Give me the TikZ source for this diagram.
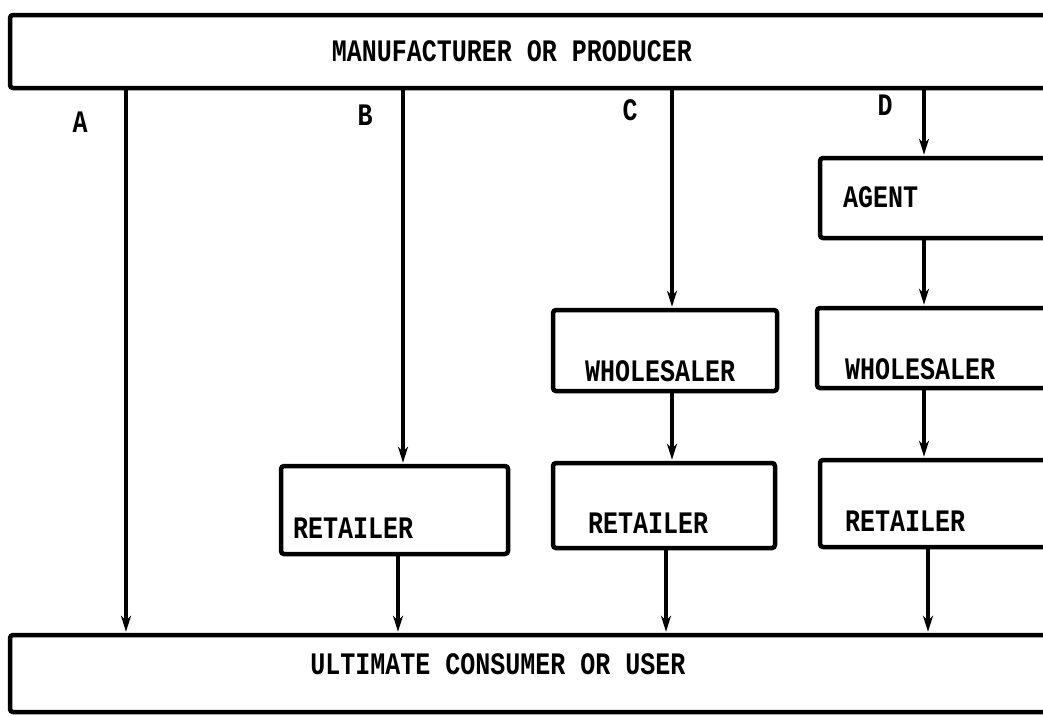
\documentclass[tikz,border=0pt]{standalone}
\usepackage{fontspec}
\setmonofont{Liberation Mono}
\usetikzlibrary{arrows.meta}
\newcommand\talltext[1]{\scalebox{1}[1.25]{#1}}
\tikzset{
  boxnode/.style={draw, line width=4.5pt, rounded corners=3pt, inner sep=0pt},
  lbl/.style={font=\ttfamily\bfseries\fontsize{25}{25}\selectfont, inner sep=0pt},
  link/.style={line width=3.5pt, -{Stealth[length=16pt,width=10pt,inset=5pt]}, shorten >=1pt},
}
\begin{document}
\begin{tikzpicture}[x=1pt,y=-1pt]
\clip (0,0) rectangle (1043,715);
\fill[white] (0,0) rectangle (1043,715);
% main boxes
\node[boxnode, minimum width=1050pt, minimum height=73pt] (mfr) at (535,51.5) {};
\node[boxnode, minimum width=1050pt, minimum height=77pt] (usr) at (535,673.5) {};
\node[lbl] (mfrtxt) at (512,51) {\talltext{MANUFACTURER OR PRODUCER}};
\node[lbl] (usrtxt) at (498,664) {\talltext{ULTIMATE CONSUMER OR USER}};
% channel letters
\node[lbl] (la) at (80,122) {\talltext{A}};
\node[lbl] (lb) at (365,115) {\talltext{B}};
\node[lbl] (lc) at (630,110) {\talltext{C}};
\node[lbl] (ld) at (885,105) {\talltext{D}};
% intermediary boxes
\node[boxnode, minimum width=227pt, minimum height=88pt] (rB) at (394.5,510) {};
\node[boxnode, minimum width=224pt, minimum height=81pt] (whC) at (665,350.5) {};
\node[boxnode, minimum width=222pt, minimum height=85pt] (rC) at (664,505.5) {};
\node[boxnode, minimum width=260pt, minimum height=80pt] (agD) at (950,198) {};
\node[boxnode, minimum width=263pt, minimum height=80pt] (whD) at (948.5,348) {};
\node[boxnode, minimum width=260pt, minimum height=87pt] (rD) at (950,503.5) {};
% box texts
\node[lbl, anchor=west] (rBt) at (293,528) {\talltext{RETAILER}};
\node[lbl, anchor=west] (whCt) at (585,371) {\talltext{WHOLESALER}};
\node[lbl, anchor=west] (rCt) at (588,523) {\talltext{RETAILER}};
\node[lbl, anchor=west] (agDt) at (843,197) {\talltext{AGENT}};
\node[lbl, anchor=west] (whDt) at (845,369) {\talltext{WHOLESALER}};
\node[lbl, anchor=west] (rDt) at (845,521) {\talltext{RETAILER}};
% line positions
\coordinate (xa) at (126,0);
\coordinate (xb1) at (403,0);
\coordinate (xb2) at (398,0);
\coordinate (xc1) at (672,0);
\coordinate (xc2) at (666,0);
\coordinate (xd1) at (924,0);
\coordinate (xd2) at (928,0);
% connectors
\draw[link] (mfr.south -| xa) -- (usr.north -| xa);
\draw[link] (mfr.south -| xb1) -- (rB.north -| xb1);
\draw[link] (rB.south -| xb2) -- (usr.north -| xb2);
\draw[link] (mfr.south -| xc1) -- (whC.north -| xc1);
\draw[link] (whC.south -| xc1) -- (rC.north -| xc1);
\draw[link] (rC.south -| xc2) -- (usr.north -| xc2);
\draw[link] (mfr.south -| xd1) -- (agD.north -| xd1);
\draw[link] (agD.south -| xd1) -- (whD.north -| xd1);
\draw[link] (whD.south -| xd1) -- (rD.north -| xd1);
\draw[link] (rD.south -| xd2) -- (usr.north -| xd2);
\end{tikzpicture}
\end{document}
